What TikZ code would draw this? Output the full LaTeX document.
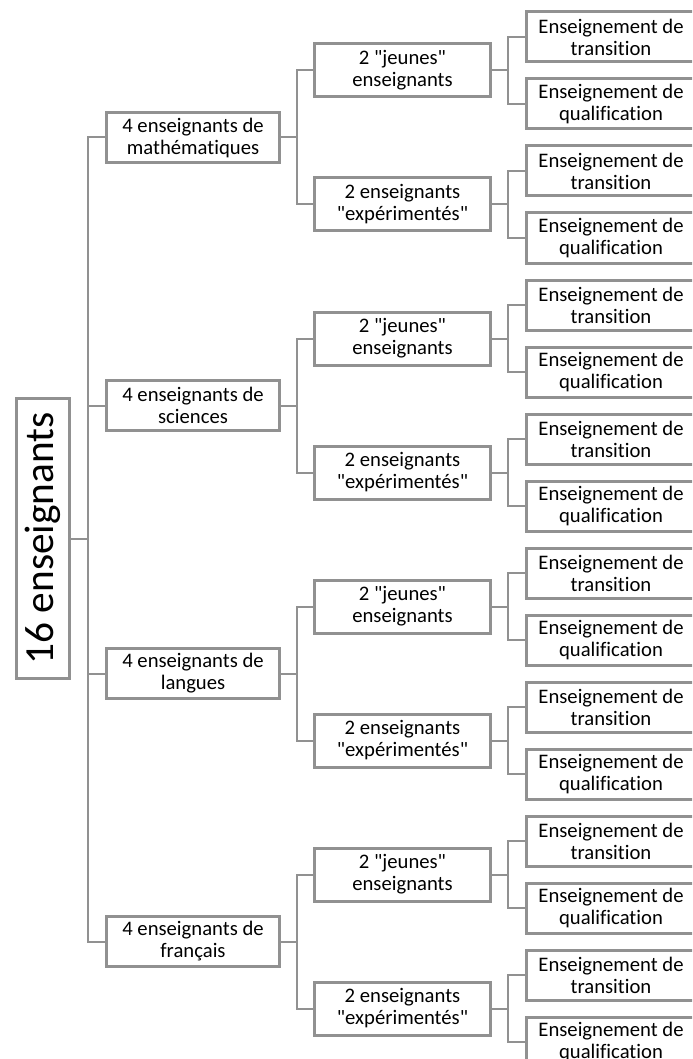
\documentclass[tikz,border=0pt]{standalone}
\usepackage{fontspec}
\setmainfont{Carlito}[Ligatures=NoCommon]
\usepackage{tikz}
\definecolor{boxgray}{RGB}{145,145,145}
\tikzset{
  box/.style={draw=boxgray, line width=2.25pt, fill=white, inner sep=0pt, align=center, font=\fontsize{15.5}{16.5}\selectfont},
  rootbox/.style={box, rotate=90, minimum width=210pt, minimum height=39.75pt, font=\fontsize{31}{36}\selectfont},
  groupbox/.style={box, minimum width=129.75pt, minimum height=37.5pt},
  subbox/.style={box, minimum width=132pt, minimum height=39.75pt},
  leafbox/.style={box, minimum width=126.75pt, minimum height=37.5pt},
  link/.style={draw=boxgray, line width=1.5pt}
}
\begin{document}
\begin{tikzpicture}[x=0.75pt, y=-0.75pt]
\useasboundingbox (0,0) rectangle (692,1059);
\clip (0,0) rectangle (692,1059);
% rotated root: its south anchor faces right
\node[rootbox] (root) at (43,538.5) {16 enseignants};
\foreach \i/\subj in {1/math\'ematiques,2/sciences,3/langues,4/fran\c{c}ais} {
  \node[groupbox] (l\i) at (193,{137.5+268*(\i-1)}) {4 enseignants de\\\subj};
  \draw[link] (l\i.west) -- ++(-17,0) |- (root.south);
  \foreach \j/\who in {1/{2 \textquotedbl jeunes\textquotedbl\\enseignants},2/{2 enseignants\\\textquotedbl exp\'eriment\'es\textquotedbl}} {
    \node[subbox] (m\i\j) at (402.5,{70.5+268*(\i-1)+134*(\j-1)}) {\who};
    \draw[link] (m\i\j.west) -- ++(-16,0) |- (l\i.east);
    \foreach \k/\kind in {1/transition,2/qualification} {
      \node[leafbox] (f\i\j\k) at (611,{37+268*(\i-1)+134*(\j-1)+67*(\k-1)}) {Enseignement de\\\kind};
      \draw[link] (f\i\j\k.west) -- ++(-17,0) |- (m\i\j.east);
    }
  }
}
\end{tikzpicture}
\end{document}
